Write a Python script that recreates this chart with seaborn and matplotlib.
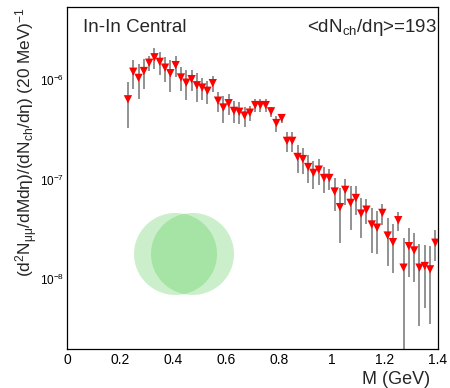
import matplotlib
matplotlib.use("Agg")
import matplotlib.pyplot as plt
import numpy as np
import pandas as pd
import seaborn as sns
from matplotlib.patches import Ellipse
from matplotlib.ticker import MultipleLocator, LogLocator, NullFormatter

# Dimuon invariant-mass bins (bin centres, GeV), 20 MeV wide
mass_gev = [0.23, 0.25, 0.27, 0.29, 0.31, 0.33, 0.35, 0.37, 0.39, 0.41,
            0.43, 0.45, 0.47, 0.49, 0.51, 0.53, 0.55, 0.57, 0.59, 0.61,
            0.63, 0.65, 0.67, 0.69, 0.71, 0.73, 0.75, 0.77, 0.79, 0.81,
            0.83, 0.85, 0.87, 0.89, 0.91, 0.93, 0.95, 0.97, 0.99, 1.01,
            1.03, 1.05, 1.07, 1.09, 1.11, 1.13, 1.15, 1.17, 1.19, 1.21,
            1.23, 1.25, 1.27, 1.29, 1.31, 1.33, 1.35, 1.37, 1.39]

# Normalised yield per bin, in units of 1e-7
yield_1e7 = [6.4, 12.1, 10.5, 12.3, 14.9, 16.9, 15.2, 13.3, 11.7, 14.1,
             10.6, 9.4, 10.2, 8.85, 8.4, 7.8, 9.3, 6.2, 5.3, 5.85,
             4.9, 4.8, 4.4, 4.7, 5.6, 5.6, 5.6, 4.85, 3.7, 4.15,
             2.45, 2.45, 1.69, 1.61, 1.34, 1.17, 1.26, 1.04, 1.04, 0.76,
             0.53, 0.79, 0.585, 0.655, 0.457, 0.50, 0.355, 0.33, 0.464, 0.275,
             0.236, 0.392, 0.131, 0.215, 0.195, 0.131, 0.136, 0.126, 0.233]

# Statistical uncertainty per bin, in units of 1e-7
error_1e7 = [3.1, 3.9, 4.1, 4.1, 2.7, 4.1, 3.9, 3.8, 4.1, 3.5,
             2.9, 3.1, 2.4, 2.9, 2.1, 2.0, 1.7, 1.4, 1.6, 1.4,
             1.2, 1.15, 1.0, 0.8, 0.8, 0.8, 0.8, 0.55, 0.7, 0.45,
             0.55, 0.55, 0.52, 0.48, 0.42, 0.37, 0.37, 0.30, 0.25, 0.28,
             0.30, 0.23, 0.27, 0.21, 0.20, 0.14, 0.17, 0.15, 0.11, 0.14,
             0.12, 0.085, 0.13, 0.11, 0.10, 0.097, 0.085, 0.09, 0.08]

x_ticks = [0, 0.2, 0.4, 0.6, 0.8, 1, 1.2, 1.4]
x_tick_labels = ["0", "0.2", "0.4", "0.6", "0.8", "1", "1.2", "1.4"]

df = pd.DataFrame({
    "mass": mass_gev,
    "yield": np.array(yield_1e7) * 1e-7,
    "err": np.array(error_1e7) * 1e-7,
})

sns.set_style("white")
plt.rcParams["font.family"] = ["Liberation Sans", "DejaVu Sans"]
plt.rcParams["mathtext.fontset"] = "custom"
plt.rcParams["mathtext.rm"] = "Liberation Sans"
plt.rcParams["mathtext.it"] = "Liberation Sans:italic"
plt.rcParams["mathtext.bf"] = "Liberation Sans:bold"
plt.rcParams["axes.unicode_minus"] = True

W, H = 450, 388
fig = plt.figure(figsize=(W / 100, H / 100), dpi=100, facecolor="white")
ax = fig.add_axes([67 / W, 1 - 349 / H, (438 - 67) / W, (349 - 7) / H])
ax.set_facecolor("white")

# Decorative overlapping green discs (drawn in axes fraction so they stay round)
disc_w, disc_h = 83 / 371, 82 / 342
for cx in (0.2925, 0.3383):
    ax.add_patch(Ellipse((cx, 0.2778), disc_w, disc_h, transform=ax.transAxes,
                         facecolor="#52cc52", edgecolor="none", alpha=0.3,
                         zorder=1))

# Error bars
ax.errorbar(df["mass"], df["yield"], yerr=df["err"], fmt="none",
            ecolor="#7f7f7f", elinewidth=1.2, capsize=0, zorder=2)

# Data points
sns.scatterplot(data=df, x="mass", y="yield", marker="v", color="#ff0000",
                s=36, edgecolor="none", linewidth=0, ax=ax, zorder=3,
                legend=False)

ax.set_yscale("log")
ax.set_xlim(0, 1.4)
ax.set_ylim(2.0e-9, 5.4e-6)

ax.set_xticks(x_ticks)
ax.set_xticklabels(x_tick_labels)
ax.xaxis.set_minor_locator(MultipleLocator(0.05))
ax.yaxis.set_major_locator(LogLocator(base=10, numticks=20))
ax.yaxis.set_minor_locator(LogLocator(base=10, subs=np.arange(2, 10), numticks=40))
ax.yaxis.set_minor_formatter(NullFormatter())

ax.tick_params(axis="both", which="both", direction="in", top=False,
               right=False, color="black", width=0.8, labelcolor="black")
ax.tick_params(axis="x", which="major", length=7.2, pad=3, labelsize=10)
ax.tick_params(axis="x", which="minor", length=3.0)
ax.tick_params(axis="y", which="major", length=8.5, pad=2, labelsize=8.5)
ax.tick_params(axis="y", which="minor", length=4.2)

for sp in ax.spines.values():
    sp.set_visible(True)
    sp.set_color("black")
    sp.set_linewidth(0.9)

ax.set_xlabel("")
ax.set_ylabel("")

fig.text(430 / W, 1 - 379 / H, "M (GeV)", ha="right", va="center",
         fontsize=13)
fig.text(40 / W, 1 - 7 / H,
         r"(d$^{2}$N$_{\mathrm{μμ}}$/dMdη)/(dN$_{\mathrm{ch}}$/dη) (20 MeV)$^{-1}$",
         rotation=90, ha="right", va="top", fontsize=12.4)
fig.text(83 / W, 1 - 31.7 / H, "In-In Central", ha="left", va="baseline",
         fontsize=13.5)
fig.text(437 / W, 1 - 31.7 / H, r"<dN$_{\mathrm{ch}}$/dη>=193", ha="right",
         va="baseline", fontsize=13.5)

fig.savefig("out.png", dpi=100, facecolor="white")
